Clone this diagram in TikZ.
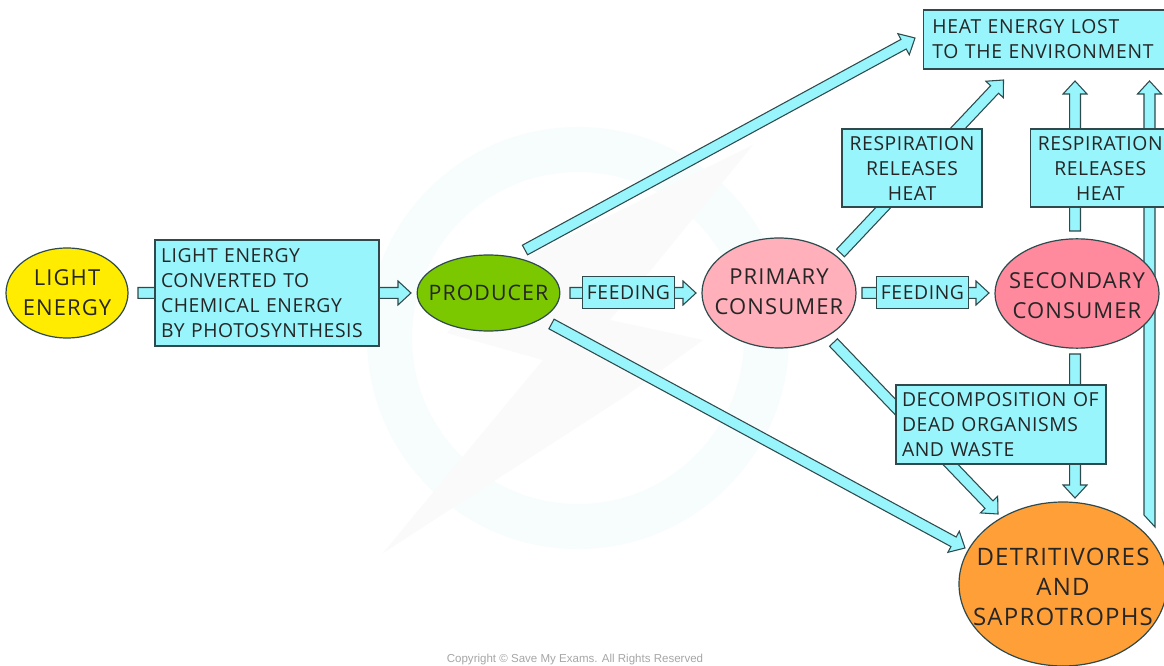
\documentclass[tikz,border=0pt]{standalone}
\usepackage{fontspec}
\setmainfont[WordSpace=2.2,LetterSpace=3]{Open Sans}
\newfontfamily\ellfont[WordSpace=1.7,LetterSpace=5]{Open Sans}
\newfontfamily\heatfont[WordSpace=3.4,LetterSpace=4]{Open Sans}
\newfontfamily\copyfont{Liberation Sans}
\usetikzlibrary{calc,shapes.geometric}
\definecolor{cy}{HTML}{98F5FC}
\definecolor{ln}{HTML}{2E4A4C}
\definecolor{yel}{HTML}{FFEC00}
\definecolor{grn}{HTML}{7CC800}
\definecolor{pnk}{HTML}{FFB0BA}
\definecolor{rose}{HTML}{FF8A9E}
\definecolor{org}{HTML}{FF9F38}
\definecolor{wm}{HTML}{F7FCFD}
\definecolor{wmb}{HTML}{FAFAFA}
\tikzset{
  blk/.style={fill=cy,draw=ln,line width=0.8pt,line join=miter},
  boxn/.style={rectangle,fill=cy,draw=ln,line width=0.9pt,inner xsep=4.5pt,inner ysep=0pt,align=left,
     font=\fontsize{14.5}{18.75}\selectfont,text=black!85},
  boxc/.style={boxn,align=center},
  ell/.style={ellipse,draw=ln,line width=0.9pt,inner sep=-30pt,align=center,
     font=\ellfont\fontsize{16.5}{22.5}\selectfont,text=black!85}
}
% #1 start, #2 tip
\newcommand{\blockarrow}[2]{%
  \coordinate (hb) at ($(#2)!9.75pt!(#1)$);
  \draw[blk] ($(#1)!4.1pt!90:(#2)$) -- ($(hb)!4.1pt!90:(#2)$) -- ($(hb)!9pt!90:(#2)$) -- (#2)
    -- ($(hb)!9pt!-90:(#2)$) -- ($(hb)!4.1pt!-90:(#2)$) -- ($(#1)!4.1pt!-90:(#2)$) -- cycle;
}
\begin{document}
\begin{tikzpicture}[x=0.75pt,y=-0.75pt]
\useasboundingbox (0,0) rectangle (1164,666);
\fill[white] (0,0) rectangle (1164,666);
% watermark
\fill[wm,even odd rule] (578,338) circle (211) (578,338) circle (166);
\fill[wmb] (753,145) -- (500,270) -- (447,333) -- (543,360) -- (383,553) -- (627,395) -- (703,340) -- (610,320) -- cycle;
% arrow ends
\coordinate (a1s) at (138,293);   \coordinate (a1t) at (411,293);
\coordinate (a2s) at (570,293);   \coordinate (a2t) at (696,293);
\coordinate (a3s) at (862,293);   \coordinate (a3t) at (989,293);
\coordinate (a4s) at (525,250);   \coordinate (a4t) at (915,38);
\coordinate (a5s) at (840.5,253); \coordinate (a5t) at (1003.5,80);
\coordinate (a6s) at (1075,231);  \coordinate (a6t) at (1075,81);
\coordinate (a7s) at (833.5,342.5); \coordinate (a7t) at (998,514);
\coordinate (a8s) at (1075,354);  \coordinate (a8t) at (1075,498);
\coordinate (a9s) at (551.5,324); \coordinate (a9t) at (965,548);
\coordinate (a10t) at (1149.5,81);
\coordinate (a10l) at (1144,515); \coordinate (a10r) at (1155,527);
\blockarrow{a1s}{a1t}
\blockarrow{a2s}{a2t}
\blockarrow{a3s}{a3t}
\blockarrow{a4s}{a4t}
\blockarrow{a5s}{a5t}
\blockarrow{a6s}{a6t}
\blockarrow{a7s}{a7t}
\blockarrow{a8s}{a8t}
\blockarrow{a9s}{a9t}
\draw[blk] (a10l) -- ($(a10l|-a10t)+(0,13)$) -- ($(a10t)+(-12,13)$) -- (a10t)
   -- ($(a10t)+(12,13)$) -- ($(a10r|-a10t)+(0,13)$) -- (a10r) -- cycle;
% ellipses
\node[ell,fill=yel,minimum width=91.5pt,minimum height=67.5pt] (light) at (67,293) {LIGHT\\ENERGY};
\node[ell,fill=grn,minimum width=107pt,minimum height=57pt,font=\ellfont\fontsize{16}{22.5}\selectfont] (producer) at (488.5,293) {PRODUCER};
\node[ell,fill=pnk,minimum width=115.5pt,minimum height=82.5pt] (primary) at (779,293) {PRIMARY\\CONSUMER\rule[-2.4pt]{0pt}{0pt}};
\node[ell,fill=rose,minimum width=123pt,minimum height=82pt] (secondary) at (1077,293.5) {\rule{0pt}{15pt}SECONDARY\\CONSUMER};
\node[ell,fill=org,minimum width=156pt,minimum height=123pt,font=\ellfont\fontsize{18}{22.5}\selectfont] (detrit) at (1063,584) {\rule{0pt}{18pt}DETRITIVORES\\AND\\SAPROTROPHS};
% boxes
\node[boxn,text width=159pt,minimum height=79.5pt] (convert) at (267,293) {LIGHT ENERGY\\CONVERTED TO\\CHEMICAL ENERGY\\BY PHOTOSYNTHESIS};
\node[boxc,minimum width=69.5pt,minimum height=23.5pt,inner xsep=0pt] (feed1) at (628.5,292.5) {FEEDING};
\node[boxc,minimum width=69.5pt,minimum height=23.5pt,inner xsep=0pt] (feed2) at (922.5,292.5) {FEEDING};
\node[boxn,text width=172pt,inner xsep=6.5pt,minimum height=44.25pt,anchor=west,font=\heatfont\fontsize{14.5}{18.75}\selectfont] (heat) at (923,39.5) {HEAT ENERGY LOST\\TO THE ENVIRONMENT};
\node[boxc,minimum width=105pt,minimum height=58.5pt,inner xsep=0pt] (resp1) at (912,168) {RESPIRATION\\RELEASES\\HEAT};
\node[boxc,text width=95.5pt,minimum height=58.5pt,inner xsep=4.5pt,anchor=west] (resp2) at (1030,168) {RESPIRATION\\RELEASES\\HEAT};
\node[boxn,text width=148.5pt,minimum height=59.25pt] (decomp) at (1001,424.5) {DECOMPOSITION OF\\DEAD ORGANISMS\\AND WASTE};
\node[text=black!35,font=\copyfont\fontsize{8.65}{10}\selectfont,inner sep=0pt] (copy) at (575,659.5) {Copyright © Save My Exams. All Rights Reserved};
\end{tikzpicture}
\end{document}
